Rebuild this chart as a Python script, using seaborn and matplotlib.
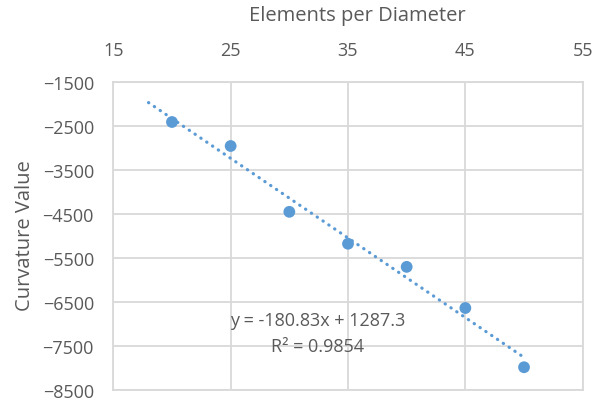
import numpy as np
import pandas as pd
import matplotlib
matplotlib.use("Agg")
import matplotlib.pyplot as plt
import seaborn as sns

# Data
elements_per_diameter = [20, 25, 30, 35, 40, 45, 50]
curvature_value = [-2420, -2965, -4460, -5185, -5710, -6645, -7990]
x_ticks = [15, 25, 35, 45, 55]
y_ticks = [-1500, -2500, -3500, -4500, -5500, -6500, -7500, -8500]
trend_x_range = [18, 50]
equation_text = "y = -180.83x + 1287.3"
r2_text = "R² = 0.9854"
x_title = "Elements per Diameter"
y_title = "Curvature Value"

sns.set_theme(style="white")
plt.rcParams["font.family"] = ["Open Sans", "DejaVu Sans"]

GRAY_TXT = "#595959"
GRID = "#D9D9D9"
BLUE = "#5B9BD5"

df = pd.DataFrame({"x": elements_per_diameter, "y": curvature_value})

fig = plt.figure(figsize=(6.03, 4.02), dpi=100)
ax = fig.add_axes([113.3 / 603, 1 - 390.7 / 402, (582.7 - 113.3) / 603, (390.7 - 82.5) / 402])

# Linear trendline computed from data
coef = np.polyfit(df["x"], df["y"], 1)
tx = np.linspace(trend_x_range[0], trend_x_range[1], 50)
trend = pd.DataFrame({"x": tx, "y": np.polyval(coef, tx)})
sns.lineplot(data=trend, x="x", y="y", ax=ax, color=BLUE, linewidth=2.3,
             linestyle=(0, (0.1, 2.1)), dash_capstyle="round", zorder=3)

sns.scatterplot(data=df, x="x", y="y", ax=ax, color=BLUE, s=72,
                edgecolor="none", zorder=4)

ax.set_xlim(15, 55)
ax.set_ylim(-8500, -1500)
ax.set_xticks(x_ticks)
ax.set_yticks(y_ticks)
ax.xaxis.tick_top()
ax.tick_params(axis="both", length=0, labelsize=13, colors=GRAY_TXT)
ax.tick_params(axis="x", pad=16)
ax.tick_params(axis="y", pad=14)
ax.grid(True, color=GRID, linewidth=1.3)
ax.set_axisbelow(True)
for sp in ax.spines.values():
    sp.set_color(GRID)
    sp.set_linewidth(1.3)
ax.set_xlabel("")
ax.set_ylabel("")

fig.text(357 / 603, 1 - 16 / 402, x_title, ha="center", va="center",
         fontsize=14.5, color=GRAY_TXT)
fig.text(25 / 603, 1 - 236 / 402, y_title, ha="center", va="center",
         rotation=90, fontsize=14.5, color=GRAY_TXT)

fig.text(318 / 603, 1 - 321 / 402, equation_text, ha="center", va="center",
         fontsize=13, color=GRAY_TXT)
fig.text(318 / 603, 1 - 347.5 / 402, r2_text, ha="center", va="center",
         fontsize=13, color=GRAY_TXT)

fig.savefig("out.png", dpi=100)
